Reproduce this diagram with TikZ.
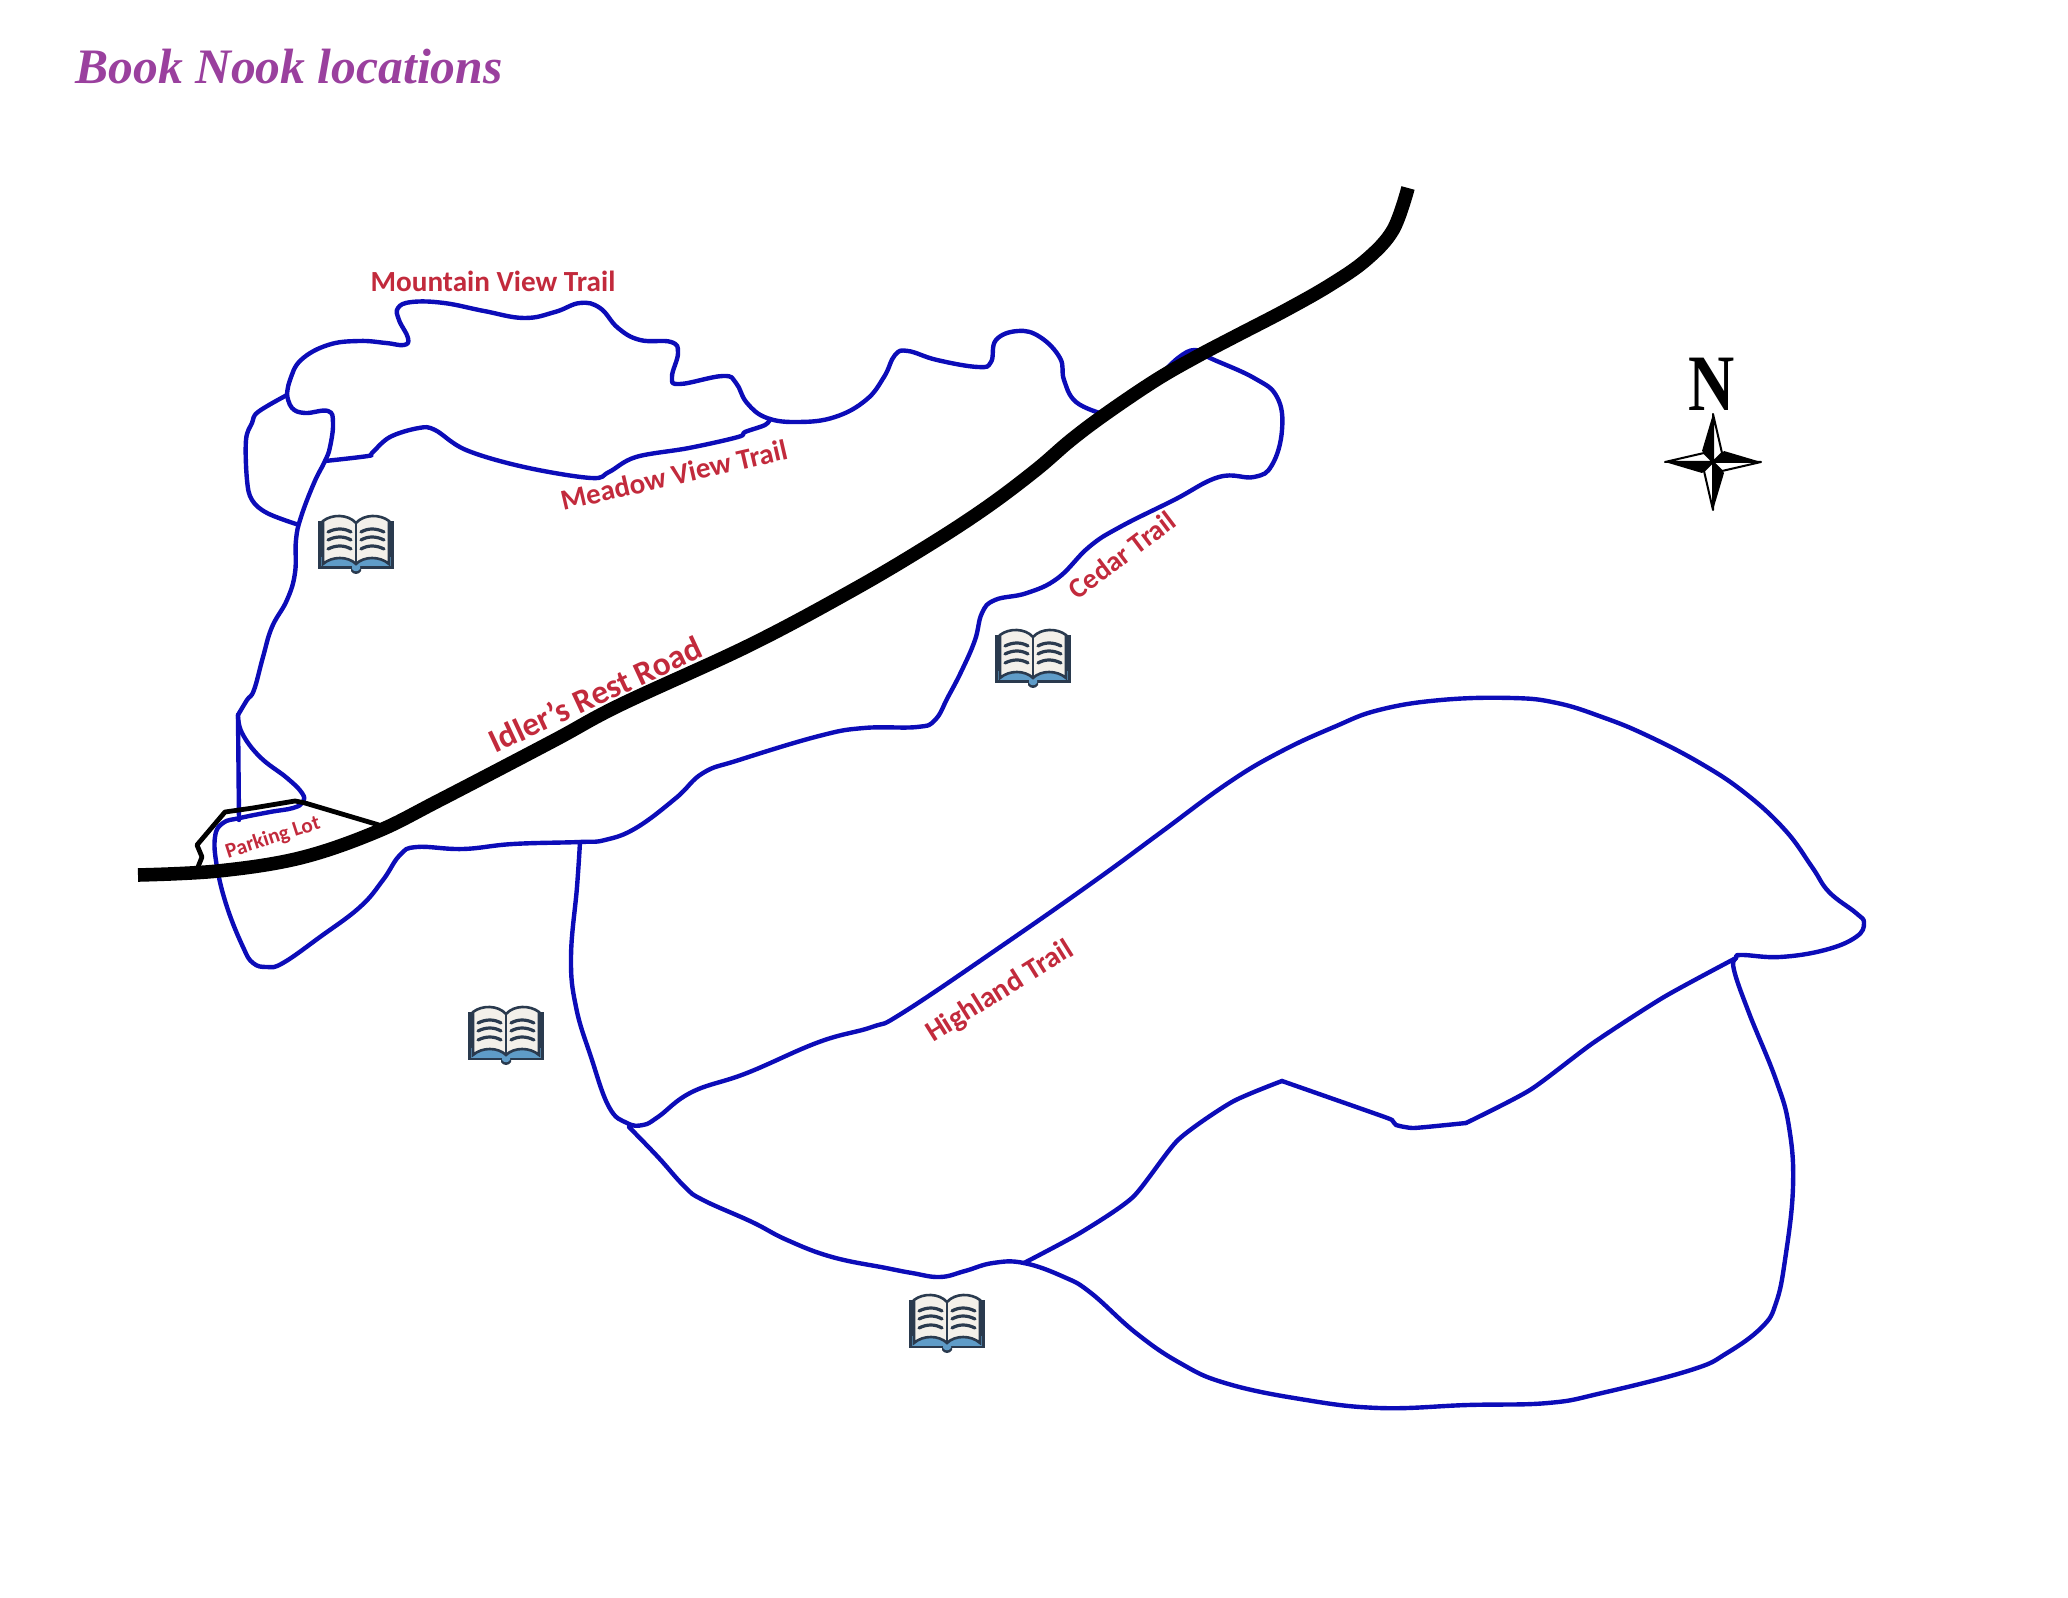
\documentclass[tikz,border=0pt]{standalone}
\usepackage{fontspec}
\setmainfont{Carlito}
\newfontfamily\titlefont{Liberation Serif}
\definecolor{trailblue}{HTML}{0C0CB8}
\definecolor{labelred}{HTML}{C22A3C}
\definecolor{titlepurple}{HTML}{9A409E}
\definecolor{coverdark}{HTML}{2A3A4E}
\definecolor{pagewhite}{HTML}{F3F0EA}
\definecolor{bookblue}{HTML}{5F9CC8}
\tikzset{
	trail/.style={draw=trailblue, line width=2.2pt, line join=round, line cap=round},
	roadline/.style={line width=6.8pt},
	traillabel/.style={text=labelred, font=\bfseries, inner sep=0pt},
	pics/booknook/.style={code={
		\fill[coverdark] (-38,-24) rectangle (38,24);
		\fill[coverdark] (-5,22) -- (-5,26) .. controls (-3,30) and (3,30) .. (5,26) -- (5,22) -- cycle;
		\fill[bookblue] (-35,12) rectangle (35,21.5);
		\fill[bookblue] (-4,20) -- (-4,24) .. controls (-2,27) and (2,27) .. (4,24) -- (4,20) -- cycle;
		\draw[coverdark, line width=1.3pt, fill=pagewhite] (0,-22) .. controls (-8,-31) and (-24,-31) .. (-33,-24) -- (-33,19) .. controls (-24,11) and (-8,11) .. (0,19) .. controls (8,11) and (24,11) .. (33,19) -- (33,-24) .. controls (24,-31) and (8,-31) .. (0,-22) -- cycle;
		\draw[coverdark, line width=0.9pt] (0,-22) -- (0,19);
		\foreach \liney in {-14,-6,3} {
			\draw[coverdark, line width=1.6pt, line cap=round] (-28,\liney+1) .. controls (-20,\liney-3) and (-12,\liney-3) .. (-5,\liney+1);
			\draw[coverdark, line width=1.6pt, line cap=round] (5,\liney+1) .. controls (12,\liney-3) and (20,\liney-3) .. (28,\liney+1);
		}
	}}
}
\begin{document}
\begin{tikzpicture}[x=0.5pt, y=-0.5pt]
	\useasboundingbox (0,0) rectangle (2068,1598);
	% Mountain View
	\draw[trail] plot[smooth, tension=0.7] coordinates {(287,395) (290,380) (301,360) (328,345) (359,341) (386,343) (404,345) (408,338) (399,320) (398,308) (412,302) (444,303) (484,311) (524,318) (555,312) (580,303) (600,308) (618,328) (640,340) (671,342) (678,353) (672,377) (680,384) (723,376) (736,383) (747,403) (767,418) (799,422) (835,417) (866,400) (884,377) (895,355) (908,351) (937,360) (978,367) (991,362) (996,340) (1018,331) (1040,337) (1060,358) (1064,380) (1076,402) (1103,414)};
	% Meadow View
	\draw[trail] plot[smooth, tension=0.6] coordinates {(325,461) (368,456) (372,453) (390,437) (419,428) (435,430) (466,450) (524,467) (591,478) (609,472) (636,457) (689,448) (738,437) (745,432) (765,425) (770,419)};
	% west side
	\draw[trail] plot[smooth, tension=0.7] coordinates {(287,395) (292,408) (305,413) (328,411) (333,423) (330,447) (325,461) (314,483) (301,517) (296,540) (295,573) (287,600) (272,627) (263,657) (254,690) (247,700) (238,715)};
	\draw[trail] plot[smooth, tension=0.6] coordinates {(287,395) (258,412) (252,423) (246,440) (247,480) (252,500) (267,513) (296,524)};
	\draw[trail] (238,715) -- (239,820);
	% Parking Lot and Cedar
	\draw[trail] plot[smooth, tension=0.7] coordinates {(238,715) (242,733) (260,757) (287,778) (302,793) (303,802) (293,808) (270,812) (240,818) (223,823) (215,837) (217,867) (227,907) (243,947) (253,963) (267,967) (283,963) (320,937) (360,907) (383,880) (400,855) (417,847) (463,849) (513,844) (580,842) (605,840) (636,828) (676,798) (703,773) (739,760) (819,736) (864,728) (917,727) (935,720) (948,697) (962,670) (975,640) (982,613) (995,600) (1027,593) (1058,578) (1089,547) (1120,527) (1174,500) (1219,477) (1254,477) (1272,465) (1282,430) (1277,397) (1254,378) (1210,358) (1195,350) (1178,358) (1160,376)};
	% Highland
	\draw[trail] plot[smooth, tension=0.7] coordinates {(580,842) (577,887) (571,957) (576,1007) (591,1057) (609,1107) (627,1123) (643,1125) (658,1117) (692,1092) (747,1073) (819,1042) (872,1027) (904,1012) (1006,943) (1096,880) (1160,833) (1228,783) (1280,752) (1334,727) (1379,710) (1441,700) (1512,698) (1557,703) (1602,717) (1646,735) (1700,763) (1745,793) (1785,830) (1812,867) (1829,892) (1856,913) (1864,923) (1856,937) (1825,950) (1780,957) (1742,955) (1736,958) (1734,970) (1749,1013) (1776,1080) (1789,1127) (1793,1187) (1785,1260) (1776,1303) (1762,1327) (1727,1353) (1691,1370) (1602,1393) (1548,1403) (1468,1405) (1379,1408) (1300,1399) (1225,1383) (1180,1363) (1136,1333) (1091,1293) (1064,1277) (1024,1263) (993,1263) (965,1271) (940,1277) (912,1273) (886,1268) (832,1257) (787,1240) (752,1222) (703,1200) (685,1187) (658,1157) (629,1127)};
	\draw[trail] plot[smooth, tension=0.4] coordinates {(1024,1263) (1080,1233) (1133,1197) (1178,1140) (1232,1102) (1282,1081)};
	\draw[trail] plot[smooth, tension=0.3] coordinates {(1282,1081) (1379,1115) (1392,1120) (1396,1125) (1414,1128) (1466,1123)};
	\draw[trail] plot[smooth, tension=0.4] coordinates {(1466,1123) (1530,1090) (1593,1043) (1664,997) (1736,958)};
	% parking edge
	\draw[line width=2.4pt, line join=round] (198,867) -- (202,857) -- (197,845) -- (225,812) -- (253,808) -- (295,801) -- (305,803) -- (379,825);
	% road
	\draw[roadline] plot[smooth, tension=0.6] coordinates {(138,875) (218,871) (300,858) (376,832) (440,800) (553,741) (620,705) (750,645) (853,590) (929,545) (987,507) (1036,470) (1071,440) (1107,413) (1156,380) (1196,357) (1234,337) (1286,310) (1330,285) (1366,260) (1393,230) (1408,188)};
	% labels
	\node[font=\titlefont\bfseries\itshape\fontsize{24.8}{24.8}\selectfont, text=titlepurple, inner sep=0pt] (booktitle) at (289,67) {Book Nook locations};
	\node[traillabel, font=\bfseries\fontsize{14.6}{14.6}\selectfont] (mountainlabel) at (493,281) {Mountain View Trail};
	\node[traillabel, font=\bfseries\fontsize{14.5}{14.5}\selectfont, rotate=13] (meadowlabel) at (674,475) {Meadow View Trail};
	\node[traillabel, font=\bfseries\fontsize{16.7}{16.7}\selectfont, rotate=25] (roadlabel) at (595,694) {Idler’s Rest Road};
	\node[traillabel, font=\bfseries\fontsize{10.6}{10.6}\selectfont, rotate=18] (parkinglabel) at (273,838) {Parking Lot};
	\node[traillabel, font=\bfseries\fontsize{14.2}{14.2}\selectfont, rotate=37] (cedarlabel) at (1122,555) {Cedar Trail};
	\node[traillabel, font=\bfseries\fontsize{14.7}{14.7}\selectfont, rotate=32] (highlandlabel) at (1000,992) {Highland Trail};
	% books
	\foreach \bookx/\booky in {356/545, 506/1036, 1033/659, 947/1324} {
		\pic at (\bookx,\booky) {booknook};
	}
	% compass
	\node[font=\titlefont\bfseries\fontsize{40}{40}\selectfont, xscale=0.8, inner sep=0pt] (northmark) at (1712,384) {N};
	\foreach \arm in {0,90,180,270} {
		\begin{scope}[shift={(1713,462)}, rotate=\arm]
			\fill[black] (0,-48) -- (-11,-11) -- (0,0) -- cycle;
			\draw[fill=white, line width=1pt, line join=round] (0,-48) -- (9,-9) -- (0,0) -- cycle;
		\end{scope}
	}
\end{tikzpicture}
\end{document}
